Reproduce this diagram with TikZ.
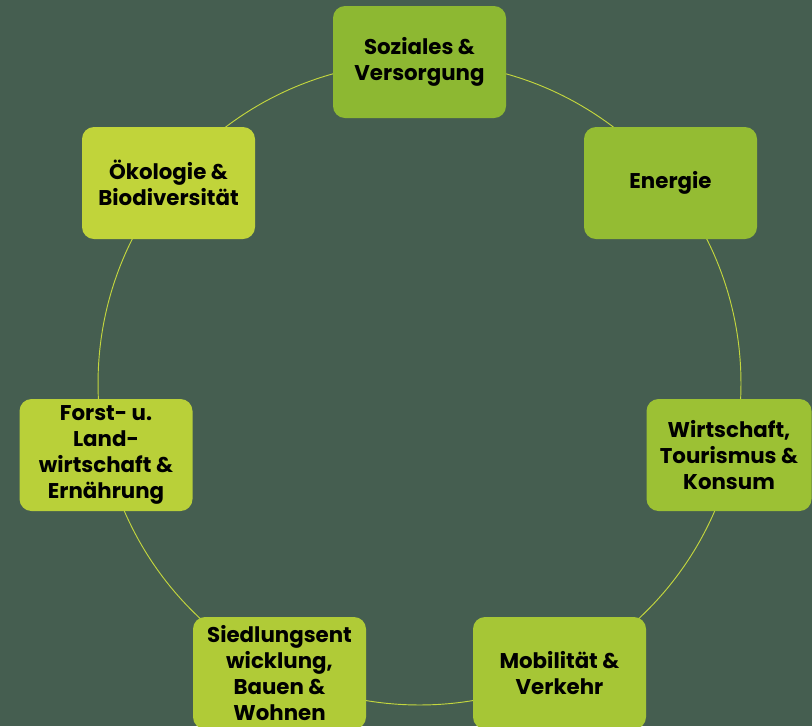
\documentclass[tikz,border=0pt]{standalone}
\usepackage{fontspec}
\setmainfont{Poppins}

\definecolor{hintergrund}{HTML}{455E50}
\definecolor{linie}{HTML}{C3D63E}
\definecolor{gruenA}{HTML}{8DB832}
\definecolor{gruenB}{HTML}{94BC33}
\definecolor{gruenC}{HTML}{9CC134}
\definecolor{gruenD}{HTML}{A6C636}
\definecolor{gruenE}{HTML}{B0CB37}
\definecolor{gruenF}{HTML}{B9D039}
\definecolor{gruenG}{HTML}{C1D43A}

\tikzstyle{feld} = [rectangle, rounded corners=9pt, minimum width=129.75pt, minimum height=84pt,
    inner sep=1pt, align=center, text=black, font=\fontsize{16}{19.5}\selectfont\bfseries]
\tikzstyle{ring} = [draw=linie, line width=0.7pt]

\begin{document}
\begin{tikzpicture}[x=0.75pt, y=-0.75pt]
\fill[hintergrund] (0,0) rectangle (812,726);
\useasboundingbox (0,0) rectangle (812,726);
\clip (0,0) rectangle (812,726);

\coordinate (mitte) at (419.5,383.5);
\draw[ring] (mitte) circle (241.1pt);

\node[feld, fill=gruenA] (soziales) at (419.5,62) {Soziales \&\\Versorgung};
\node[feld, fill=gruenB] (energie) at (670.5,183) {Energie};
\node[feld, fill=gruenC, minimum width=123.75pt] (wirtschaft) at (729,455) {Wirtschaft,\\Tourismus \&\\Konsum};
\node[feld, fill=gruenD] (mobilitaet) at (559.5,673) {Mobilität \&\\Verkehr};
\node[feld, fill=gruenE] (siedlung) at (279.5,673) {Siedlungsent\\wicklung,\\Bauen \&\\Wohnen};
\node[feld, fill=gruenF] (forst) at (106,455) {Forst- u.\\Land-\\wirtschaft \&\\Ernährung};
\node[feld, fill=gruenG] (oekologie) at (168.5,183) {Ökologie \&\\Biodiversität};
\end{tikzpicture}
\end{document}
